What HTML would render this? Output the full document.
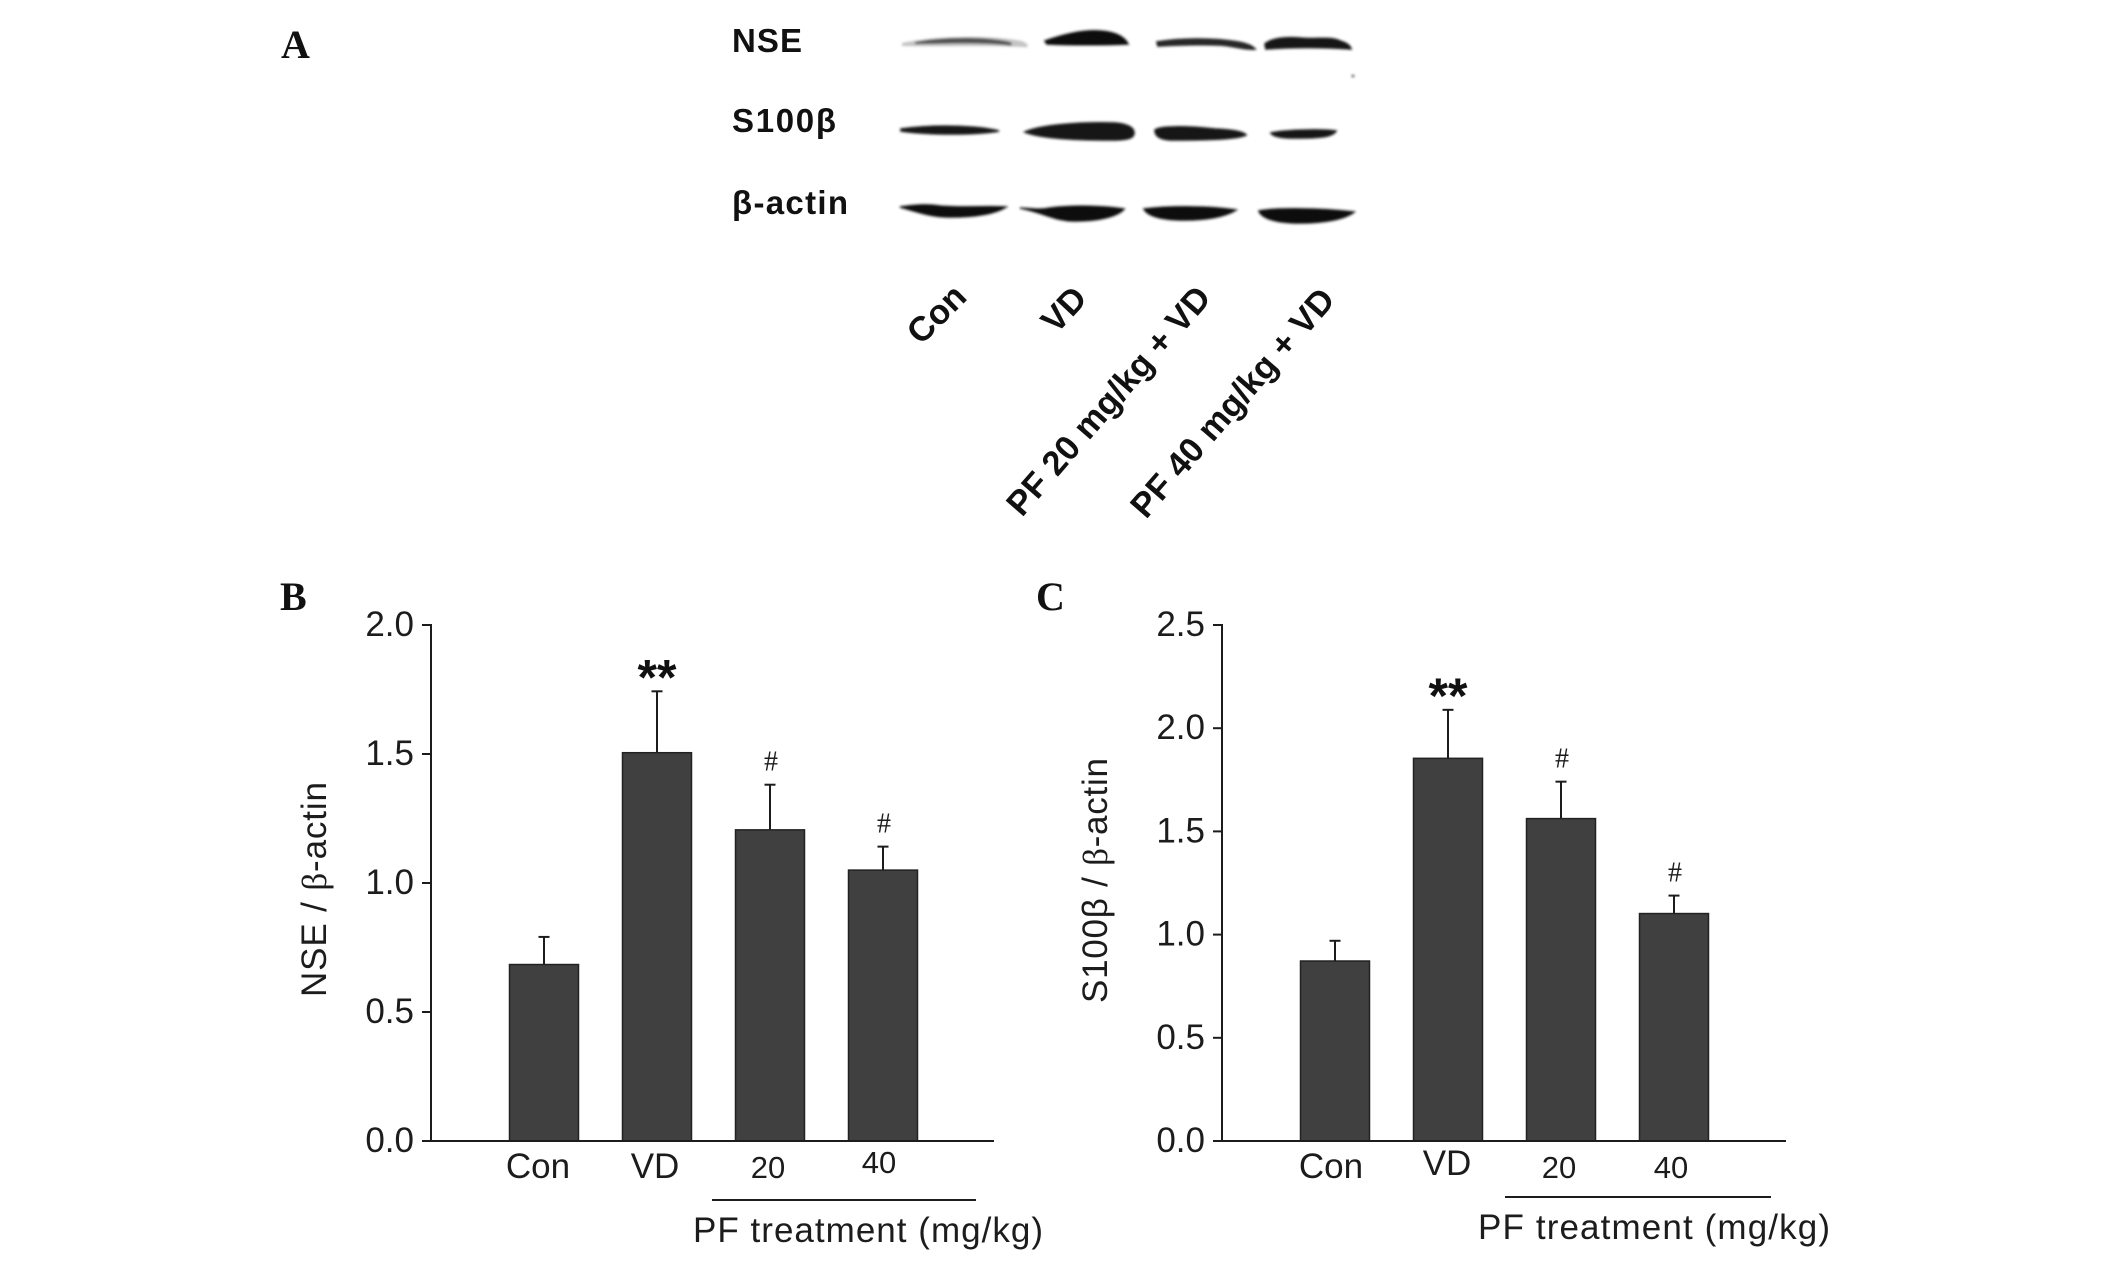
<!DOCTYPE html>
<html lang="en">
<head>
<meta charset="utf-8">
<title>NSE and S100β western blot and bar charts</title>
<style>
  html, body { margin: 0; padding: 0; background: #fff; }
  svg { display: block; }
  text { font-family: "Liberation Sans", Arial, sans-serif; fill: #1c1c1c; }
  .panel { font-family: "Liberation Serif", serif; font-weight: bold; font-size: 40px; fill: #111; }
  .blot-label { font-weight: bold; font-size: 33px; fill: #111; }
  .rot { font-weight: bold; font-size: 34.5px; fill: #111; }
  .tick { font-size: 35px; text-anchor: end; }
  .cat { font-size: 35px; }
  .dose { font-size: 31px; }
  .sub { font-size: 35px; }
  .hash { font-family: "Liberation Serif", serif; font-size: 28px; text-anchor: middle; }
  .stars { font-size: 50px; font-weight: bold; text-anchor: middle; fill: #111; }
  .beta { font-family: "Liberation Serif", serif; }
  .thick path { stroke: #141414; stroke-width: 1.6; }
</style>
</head>
<body>
<svg id="figure" xmlns="http://www.w3.org/2000/svg" width="2126" height="1261" viewBox="0 0 2126 1261">
  <defs>
    <filter id="soft" x="-10%" y="-60%" width="120%" height="220%"><feGaussianBlur stdDeviation="1.3"/></filter>
  </defs>
  <rect width="2126" height="1261" fill="#fff"/>

  <text class="panel" x="281" y="58">A</text>
  <text class="panel" x="280" y="610">B</text>
  <text class="panel" x="1036" y="610">C</text>

  <g>
    <text class="blot-label" x="732" y="52" textLength="70">NSE</text>
    <text class="blot-label" x="732" y="132" textLength="104">S100β</text>
    <text class="blot-label" x="732" y="214" textLength="116">β-actin</text>

    <g filter="url(#soft)">
      <path fill="#c4c4c4" d="M902 43 C935 36 990 35 1022 41 C1030 45 1030 48 1022 47 C985 45 940 47 902 46 Z"/>
      <path fill="#505050" d="M915 42 C940 37 985 36 1010 42 C1014 45 1012 46 1006 45 C975 42 940 44 915 44 Z"/>
      <g class="thick">
        <path fill="#0c0c0c" d="M1045 41 C1065 34 1085 30 1100 31 C1115 32 1124 36 1128 44 C1105 45 1070 45 1047 44 Z"/>
        <path fill="#2a2a2a" d="M1157 42 C1180 38 1215 38 1238 42 C1248 44 1252 46 1255 49 C1245 50 1235 46 1220 45 C1195 44 1175 45 1158 46 Z"/>
        <path fill="#141414" d="M1265 44 C1272 38 1285 37 1300 38 C1315 40 1330 36 1340 41 C1346 43 1350 45 1351 49 C1325 47 1290 47 1266 49 Z"/>
        <path fill="#161616" d="M901 129 C930 125 975 125 999 131 C975 135 930 135 901 131 Z"/>
        <path fill="#141414" d="M1025 132 C1040 125 1080 122 1115 123 C1128 124 1134 128 1134 133 C1134 139 1125 140 1110 140 C1075 140 1040 138 1025 132 Z"/>
        <path fill="#161616" d="M1155 130 C1160 126 1185 126 1215 129 C1235 130 1244 132 1246 135 C1235 140 1195 140 1170 140 C1158 139 1155 135 1155 130 Z"/>
        <path fill="#161616" d="M1271 133 C1285 130 1320 129 1336 131 C1332 137 1320 138 1295 138 C1280 138 1273 136 1271 133 Z"/>
        <path fill="#090909" d="M900 207 C915 205 925 204 940 206 C960 208 985 206 1006 207 C995 214 975 217 950 217 C930 217 915 211 900 207 Z"/>
        <path fill="#090909" d="M1020 208 C1035 209 1040 210 1050 208 C1075 205 1105 206 1124 209 C1118 216 1100 221 1075 221 C1055 221 1045 213 1020 208 Z"/>
        <path fill="#090909" d="M1144 209 C1170 206 1210 206 1236 210 C1225 217 1205 220 1185 220 C1160 220 1148 216 1144 209 Z"/>
        <path fill="#090909" d="M1259 211 C1275 208 1320 208 1354 212 C1345 219 1325 223 1300 223 C1275 223 1262 218 1259 211 Z"/>
      </g>
      <circle cx="1353" cy="76" r="1.4" fill="#555"/>
    </g>

    <text class="rot" transform="translate(921 346) rotate(-45)">Con</text>
    <text class="rot" transform="translate(1056 335) rotate(-47)">VD</text>
    <text class="rot" transform="translate(1022 518) rotate(-49)">PF 20 mg/kg + VD</text>
    <text class="rot" transform="translate(1146 520) rotate(-49)">PF 40 mg/kg + VD</text>
  </g>

  <g id="chart-b"></g>
  <g id="chart-c"></g>
</svg>

<script>
// Chart data
const categories = ['Con', 'VD', '20', '40'];
const nseValues = [0.684, 1.505, 1.206, 1.05];
const nseErrorTops = [0.791, 1.743, 1.381, 1.141];
const nseTicks = [0, 0.5, 1, 1.5, 2];
const nseMarks = ['', '**', '#', '#'];
const s100Values = [0.872, 1.854, 1.562, 1.102];
const s100ErrorTops = [0.97, 2.089, 1.741, 1.189];
const s100Ticks = [0, 0.5, 1, 1.5, 2, 2.5];
const s100Marks = ['', '**', '#', '#'];

const NS = 'http://www.w3.org/2000/svg';
const INK = '#1c1c1c';

function make(parent, tag, attrs, content) {
  const node = document.createElementNS(NS, tag);
  for (const key in attrs) node.setAttribute(key, attrs[key]);
  if (content !== undefined) node.textContent = content;
  parent.appendChild(node);
  return node;
}

function line(parent, x1, y1, x2, y2, width) {
  return make(parent, 'line', { x1, y1, x2, y2, stroke: INK, 'stroke-width': width });
}

function drawChart(root, cfg) {
  const yScale = v => cfg.baseY - (v / cfg.maxValue) * (cfg.baseY - cfg.topY);
  const xScale = i => cfg.firstX + cfg.step * i;

  cfg.values.forEach((value, i) => {
    const cx = xScale(i);
    const errTop = yScale(cfg.errors[i]);
    const barTop = yScale(value);

    const stem = line(root, cx, barTop, cx, errTop, 2);
    
    

    const cap = line(root, cx - 5.5, errTop, cx + 5.5, errTop, 2);
    
    

    const bar = make(root, 'rect', {
      x: cx - cfg.barWidth / 2, y: barTop,
      width: cfg.barWidth, height: cfg.baseY - barTop,
      fill: '#404040', stroke: '#222', 'stroke-width': 1.5
    });
    
    

    const mark = cfg.marks[i];
    if (mark === '**') {
      const stars = make(root, 'text', { class: 'stars', x: cx, y: errTop + 3 }, mark);
      
      
    } else if (mark === '#') {
      const hash = make(root, 'text', { class: 'hash', x: cx + 1, y: errTop - 14 }, mark);
      
      
    }
  });

  const yAxis = line(root, cfg.axisX, cfg.topY - 1, cfg.axisX, cfg.baseY, 2);
  
  

  const xAxis = line(root, cfg.axisX - 9, cfg.baseY, cfg.axisEnd, cfg.baseY, 2);
  
  

  cfg.ticks.forEach(t => {
    const y = yScale(t);
    if (t > 0) {
      const tickMark = line(root, cfg.axisX - 9, y, cfg.axisX, y, 2);
      
      
    }
    const label = make(root, 'text', { class: 'tick', x: cfg.axisX - 17, y: y + 11 }, t.toFixed(1));
    
    
  });

  cfg.catLabels.forEach((spec, i) => {
    const label = make(root, 'text', {
      class: i < 2 ? 'cat' : 'dose', x: xScale(i) + spec.dx, y: cfg.baseY + spec.dy, 'text-anchor': 'middle'
    }, categories[i]);
    
    
  });

  const bracket = line(root, cfg.bracket[0], cfg.bracket[2], cfg.bracket[1], cfg.bracket[2], 2);
  
  

  const sub = make(root, 'text', { class: 'sub', x: cfg.sub[0], y: cfg.sub[2], textLength: cfg.sub[1] }, 'PF treatment (mg/kg)');
  
  

  const title = make(root, 'text', {
    class: 'sub',
    transform: 'translate(' + cfg.title[0] + ' ' + cfg.title[1] + ') rotate(-90)',
    textLength: cfg.title[2]
  });
  
  
  make(title, 'tspan', {}, cfg.titleLead);
  make(title, 'tspan', { class: 'beta' }, 'β');
  make(title, 'tspan', {}, '-actin');
}

drawChart(document.getElementById('chart-b'), {
  id: 'nse', values: nseValues, errors: nseErrorTops, ticks: nseTicks, marks: nseMarks,
  maxValue: 2, baseY: 1141, topY: 625, axisX: 431, axisEnd: 994,
  firstX: 544, step: 113, barWidth: 69,
  catLabels: [{ dx: -6, dy: 37 }, { dx: -2, dy: 37 }, { dx: -2, dy: 37 }, { dx: -4, dy: 32 }],
  bracket: [712, 976, 1200],
  sub: [693, 350, 1242],
  title: [326, 997, 215], titleLead: 'NSE / '
});

drawChart(document.getElementById('chart-c'), {
  id: 's100b', values: s100Values, errors: s100ErrorTops, ticks: s100Ticks, marks: s100Marks,
  maxValue: 2.5, baseY: 1141, topY: 625, axisX: 1222, axisEnd: 1786,
  firstX: 1335, step: 113, barWidth: 69,
  catLabels: [{ dx: -4, dy: 37 }, { dx: -1, dy: 34 }, { dx: -2, dy: 37 }, { dx: -3, dy: 37 }],
  bracket: [1505, 1771, 1197],
  sub: [1478, 352, 1239],
  title: [1107, 1003, 245], titleLead: 'S100β / '
});
</script>
</body>
</html>
